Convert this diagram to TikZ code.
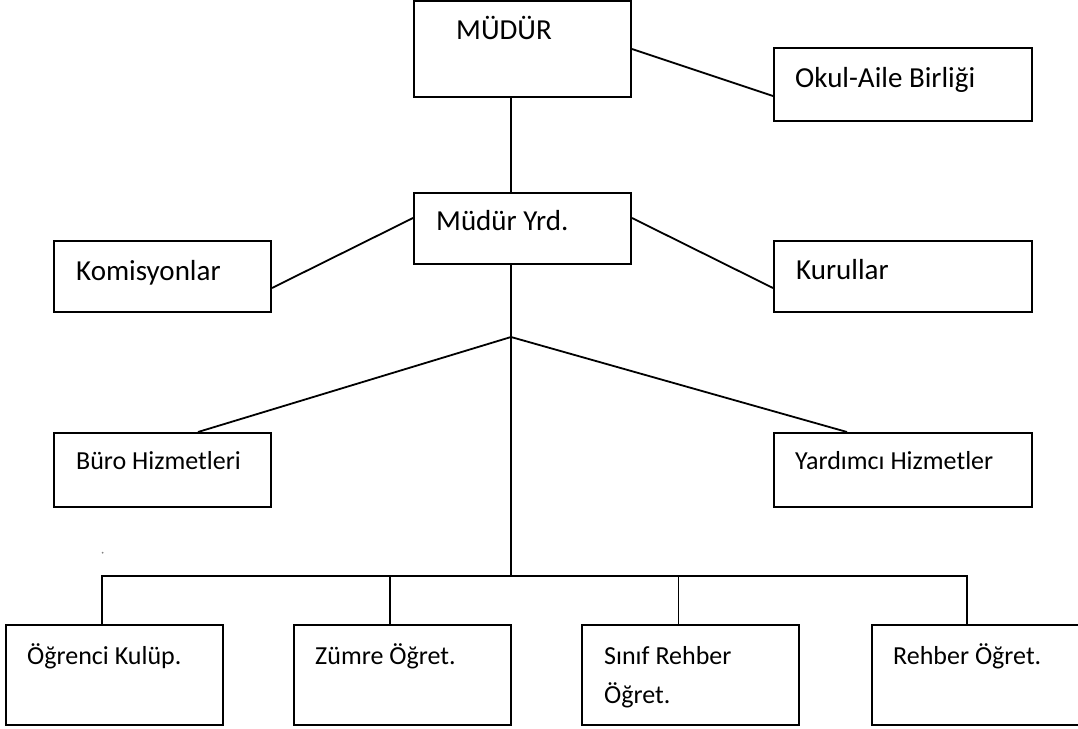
\documentclass[tikz,border=0pt]{standalone}
\usepackage{fontspec}
\setmainfont{Carlito}

\tikzset{
	box/.style={draw, rectangle, line width=2pt, inner sep=0pt},
	wide/.style={box, minimum width=258pt},
	narrow/.style={box, minimum width=217pt},
	big/.style={inner sep=0pt, anchor=base west, font=\fontsize{29}{35}\selectfont},
	small/.style={inner sep=0pt, anchor=base west, align=left, font=\fontsize{26}{39}\selectfont},
	line/.style={line width=1.8pt}
}

\begin{document}
\begin{tikzpicture}[x=1pt,y=-1pt]
	\clip (0,0) rectangle (1078,728);

	% boxes
	\node[narrow, minimum height=96pt] (mudur) at (522.5,49) {};
	\node[wide, minimum height=73pt] (okul) at (903,84.5) {};
	\node[narrow, minimum height=71pt] (yrd) at (522.5,228.5) {};
	\node[narrow, minimum height=71pt] (komisyon) at (162.5,276.5) {};
	\node[wide, minimum height=71pt] (kurul) at (903,276.5) {};
	\node[narrow, minimum height=74pt] (buro) at (162.5,470) {};
	\node[wide, minimum height=74pt] (yardimci) at (903,470) {};
	\node[narrow, minimum height=100pt] (ogrenci) at (114,675) {};
	\node[narrow, minimum height=100pt] (zumre) at (402,675) {};
	\node[narrow, minimum height=100pt] (sinif) at (690.5,675) {};
	\node[narrow, minimum height=100pt] (rehber) at (980.5,675) {};

	% texts
	\node[big] (t-mudur) at (456,39.3) {MÜDÜR};
	\node[big] (t-okul) at (795,87.7) {Okul-Aile Birliği};
	\node[big] (t-yrd) at (436,230.7) {Müdür Yrd.};
	\node[big] (t-komisyon) at (76,280) {Komisyonlar};
	\node[big] (t-kurul) at (796,279.3) {Kurullar};
	\node[small] (t-buro) at (76,469.3) {Büro Hizmetleri};
	\node[small] (t-yardimci) at (795,469) {Yardımcı Hizmetler};
	\node[small] (t-ogrenci) at (27,664) {Öğrenci Kulüp.};
	\node[small] (t-zumre) at (315,664) {Zümre Öğret.};
	\node[small] (t-sinif) at (604,703) {Sınıf Rehber\\Öğret.};
	\node[small] (t-rehber) at (893,664) {Rehber Öğret.};

	% trunk
	\coordinate (junction) at (511,337);
	\coordinate (bus) at (511,576);

	\path[line]
	(mudur.east)	edge ([yshift=-11.5pt]okul.west)
	(mudur.south -| junction)	edge (yrd.north -| junction)
	([yshift=10.5pt]yrd.west)	edge ([yshift=-11.5pt]komisyon.east)
	([yshift=10.5pt]yrd.east)	edge ([yshift=-11.5pt]kurul.west)
	(yrd.south -| junction)	edge (bus)
	(junction)	edge ([xshift=35.5pt]buro.north)
			edge ([xshift=-56pt]yardimci.north);

	\draw[line] ([xshift=-12pt]ogrenci.north) |- (bus) -| ([xshift=-13.5pt]rehber.north);
	\foreach \b in {zumre,sinif}
		\draw[line] ([xshift=-12pt]\b.north) -- ([xshift=-12pt]\b.north |- bus);

	\fill[gray] (102.7,552.7) circle (1pt);
\end{tikzpicture}
\end{document}
